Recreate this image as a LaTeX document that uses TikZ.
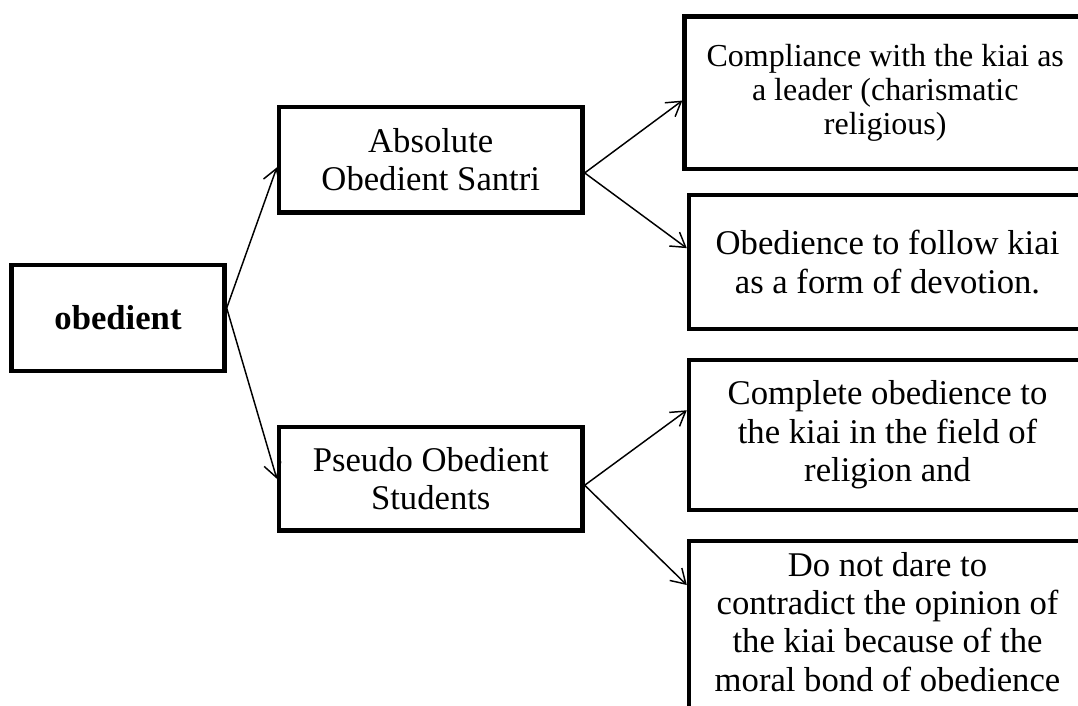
\documentclass[tikz,border=0pt]{standalone}
\usepackage{fontspec}
\setmainfont{Liberation Serif}
\usetikzlibrary{calc,arrows.meta}
\tikzset{
  box/.style={draw=black, line width=3.3pt, rectangle, align=center, inner sep=0pt,
    font=\fontsize{26pt}{28.8pt}\selectfont},
  smallbox/.style={box, font=\fontsize{24pt}{25.5pt}\selectfont},
  arr/.style={-{Straight Barb[length=10.5pt,width=13pt]}, line width=1.1pt, black}
}
\begin{document}
\begin{tikzpicture}[x=0.75pt,y=-0.75pt]
\path[use as bounding box, clip] (0,0) rectangle (1078,706);
\node[box, minimum width=159.75pt, minimum height=79.5pt] (ob) at (118,318) {\textbf{obedient}};
\node[box, minimum width=227.6pt, minimum height=79.1pt] (abs) at (430.75,159.75) {Absolute\\Obedient Santri};
\node[box, minimum width=227.6pt, minimum height=77.6pt] (pse) at (430.75,478.75) {Pseudo Obedient\\Students};
\node[smallbox, minimum width=301.1pt, minimum height=114.4pt] (r1) at (885.25,92.75) {Compliance with the kiai as\\a leader (charismatic\\religious)};
\node[box, minimum width=297.75pt, minimum height=100.5pt] (r2) at (887.5,262) {Obedience to follow kiai\\as a form of devotion.};
\node[box, minimum width=297.75pt, minimum height=112.5pt] (r3) at (887.5,435) {Complete obedience to\\the kiai in the field of\\religion and};
\node[box, minimum width=297.75pt, anchor=north, inner ysep=8.5pt, text depth=125pt] (r4) at (887.5,538.5) {Do not dare to\\contradict the opinion of\\the kiai because of the\\moral bond of obedience};
\draw[arr] ($(ob.north east)!0.41!(ob.south east)$) -- ($(abs.north west)!0.57!(abs.south west)$);
\draw[arr] ($(ob.north east)!0.41!(ob.south east)$) -- (pse.west);
\draw[arr] ($(abs.north east)!0.62!(abs.south east)$) -- ($(r1.north west)!0.55!(r1.south west)$);
\draw[arr] ($(abs.north east)!0.62!(abs.south east)$) -- ($(r2.north west)!0.40!(r2.south west)$);
\draw[arr] ($(pse.north east)!0.56!(pse.south east)$) -- ($(r3.north west)!0.34!(r3.south west)$);
\draw[arr] ($(pse.north east)!0.56!(pse.south east)$) -- ($(r4.north west)+(0,46.5)$);
\end{tikzpicture}
\end{document}
